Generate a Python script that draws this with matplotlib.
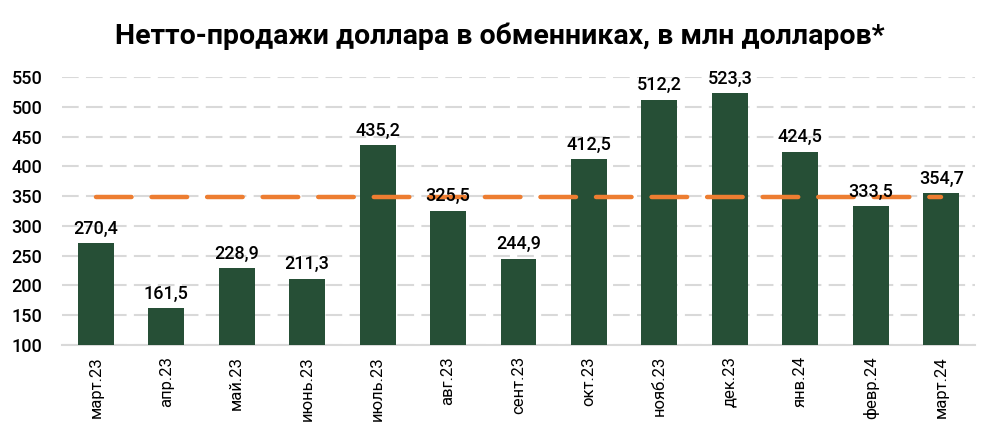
import matplotlib
matplotlib.use("Agg")
from matplotlib import pyplot as plt
import numpy as np

months = ["март.23", "апр.23", "май.23", "июнь.23", "июль.23", "авг.23", "сент.23",
          "окт.23", "нояб.23", "дек.23", "янв.24", "февр.24", "март.24"]
net_sales = [270.4, 161.5, 228.9, 211.3, 435.2, 325.5, 244.9,
             412.5, 512.2, 523.3, 424.5, 333.5, 354.7]
average = [348] * len(months)
y_ticks = [100, 150, 200, 250, 300, 350, 400, 450, 500, 550]

plt.rcParams['font.family'] = ['Roboto', 'DejaVu Sans']

fig = plt.figure(figsize=(9.99, 4.4), dpi=100)
ax = fig.add_axes([0.062, 0.216, 0.914, 0.609])

x = np.arange(len(months))
ax.bar(x, [v - 100 for v in net_sales], bottom=100, width=0.51, color="#264F36", zorder=3)
ax.plot(x, average, color="#ED7D31", linewidth=3.2, dashes=(8, 4.5),
        dash_capstyle="round", zorder=4)

for xi, v in zip(x, net_sales):
    ax.text(xi, v + 9, f"{v:.1f}".replace(".", ","), ha="center", va="bottom",
            fontsize=13, fontweight="medium", zorder=5)

ax.set_xlim(-0.48, len(months) - 0.52)
ax.set_ylim(100, 550)
ax.set_yticks(y_ticks)
ax.set_xticks(x)
ax.set_xticklabels(months, rotation=90, fontsize=12)
for lbl in ax.get_yticklabels():
    lbl.set_fontweight("medium")
ax.tick_params(axis="y", labelsize=13, length=0, pad=14)
ax.tick_params(axis="x", length=0, pad=8)
ax.yaxis.grid(True, color="#d9d9d9", linewidth=1.5, dashes=(8, 3.5), zorder=0)
for side in ["top", "right", "left"]:
    ax.spines[side].set_visible(False)
ax.spines["bottom"].set_color("#d9d9d9")
ax.spines["bottom"].set_linewidth(1.5)

fig.suptitle("Нетто-продажи доллара в обменниках, в млн долларов*", fontsize=20.5,
             fontweight="bold", y=0.95)

fig.savefig("out.png", dpi=100)
